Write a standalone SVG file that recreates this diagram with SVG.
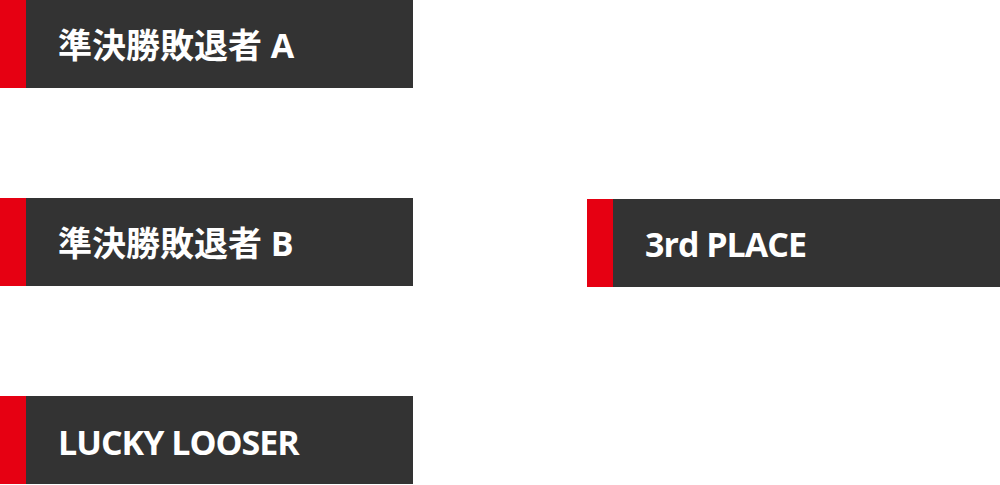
<svg xmlns="http://www.w3.org/2000/svg" width="1000" height="485" viewBox="0 0 1000 485">
<style>
.box{fill:#333333}.bar{fill:#e60012}
.t{fill:#ffffff;font-family:"Open Sans","Noto Sans CJK JP",sans-serif;font-weight:bold;font-size:34px}
</style>
<rect width="1000" height="485" fill="#ffffff"/>
<g id="connectors"></g>
<g id="node-a"><rect class="box" x="0" y="0" width="413" height="88"/><rect class="bar" x="0" y="0" width="26" height="88"/><text class="t" x="58" y="58">準決勝敗退者 A</text></g>
<g id="node-b"><rect class="box" x="0" y="198" width="413" height="88"/><rect class="bar" x="0" y="198" width="26" height="88"/><text class="t" x="58" y="256">準決勝敗退者 B</text></g>
<g id="node-lucky"><rect class="box" x="0" y="396" width="413" height="88"/><rect class="bar" x="0" y="396" width="26" height="88"/><text class="t" x="58" y="455" letter-spacing="-1">LUCKY LOOSER</text></g>
<g id="node-3rd"><rect class="box" x="587" y="199" width="413" height="88"/><rect class="bar" x="587" y="199" width="26" height="88"/><text class="t" x="645" y="257" letter-spacing="-1">3rd PLACE</text></g>
</svg>
